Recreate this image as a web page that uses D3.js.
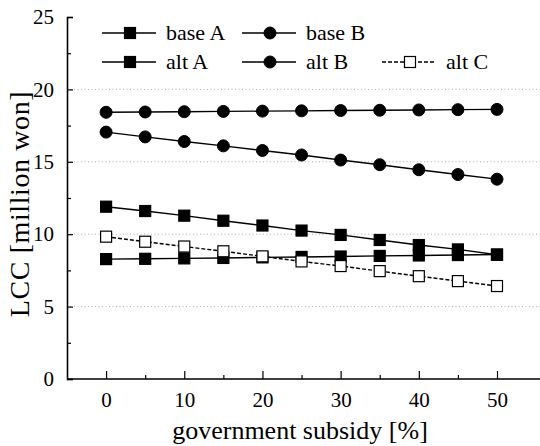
<!DOCTYPE html>
<html>
<head>
<meta charset="utf-8">
<script src="https://cdn.jsdelivr.net/npm/d3@7"></script>
<style>
  body { margin: 0; background: #fff; }
  svg { display: block; font-family: "Liberation Serif", "DejaVu Serif", serif; }
</style>
</head>
<body>
<div id="chart"></div>
<script>
// subsidy levels [%]
const subsidy = [0, 5, 10, 15, 20, 25, 30, 35, 40, 45, 50];

// LCC [million won]
const baseA = [8.28, 8.3, 8.33, 8.36, 8.4, 8.43, 8.46, 8.5, 8.53, 8.56, 8.6];
const baseB = [18.42, 18.44, 18.46, 18.48, 18.5, 18.52, 18.54, 18.56, 18.58, 18.6, 18.62];
const altA = [11.9, 11.6, 11.28, 10.93, 10.6, 10.25, 9.95, 9.6, 9.25, 8.95, 8.58];
const altB = [17.05, 16.72, 16.4, 16.1, 15.78, 15.47, 15.12, 14.8, 14.45, 14.12, 13.8];
const altC = [9.83, 9.48, 9.15, 8.82, 8.47, 8.12, 7.8, 7.45, 7.1, 6.76, 6.42];

const yTicks = [0, 5, 10, 15, 20, 25];
const xTicks = [0, 10, 20, 30, 40, 50];
const gridValues = [5, 10, 15, 20];

const width = 540, height = 446;
const mLeft = 67, mRight = 540, mTop = 17, mBottom = 379;
const serif = "Liberation Serif";

const svg = d3.select("#chart").append("svg")
    .attr("width", width)
    .attr("height", height);

const x = d3.scaleLinear().domain([-5, 55.5]).range([mLeft, mRight]);
const y = d3.scaleLinear().domain([0, 25]).range([mBottom, mTop]);

// dotted grid
svg.selectAll("line.grid")
    .data(gridValues)
    .join("line")
    .attr("class", "grid")
    .attr("x1", mLeft).attr("x2", mRight)
    .attr("y1", d => y(d)).attr("y2", d => y(d))
    .attr("stroke", "#999")
    .attr("stroke-width", 0.8)
    .attr("stroke-dasharray", "1,2.5");

// y axis (ticks inward)
const yAxis = d3.axisLeft(y)
    .tickValues(d3.range(0, 25.1, 2.5))
    .tickSize(-6)
    .tickPadding(13)
    .tickFormat(d => yTicks.includes(d) ? d : "");
const gy = svg.append("g").attr("transform", `translate(${mLeft},0)`).call(yAxis)
    .attr("font-family", serif);
gy.select(".domain").attr("stroke", "#000").attr("stroke-width", 1.6);
gy.selectAll(".tick line")
    .attr("stroke-width", 1.2)
    .attr("x2", d => yTicks.includes(d) ? 6 : 4);
gy.selectAll(".tick text")
    .attr("font-family", serif)
    .attr("font-size", 21)
    .attr("fill", "#000");

// x axis (ticks inward)
const xAxis = d3.axisBottom(x)
    .tickValues(d3.range(0, 51, 5))
    .tickSize(-8)
    .tickPadding(13)
    .tickFormat(d => xTicks.includes(d) ? d : "");
const gx = svg.append("g").attr("transform", `translate(0,${mBottom})`).call(xAxis)
    .attr("font-family", serif);
gx.select(".domain").attr("stroke", "#000").attr("stroke-width", 1.6)
    .attr("d", `M${mLeft},0H${mRight}`);
gx.selectAll(".tick line")
    .attr("stroke-width", 1.2)
    .attr("y2", d => xTicks.includes(d) ? -8 : -4);
gx.selectAll(".tick text")
    .attr("font-family", serif)
    .attr("font-size", 21)
    .attr("fill", "#000");

// axis titles
svg.append("text")
    .attr("x", 300).attr("y", 439)
    .attr("text-anchor", "middle")
    .attr("font-family", serif)
    .attr("font-size", 26)
    .text("government subsidy [%]");

svg.append("text")
    .attr("transform", "translate(29,204) rotate(-90)")
    .attr("text-anchor", "middle")
    .attr("font-family", serif)
    .attr("font-size", 28)
    .attr("letter-spacing", 0.6)
    .text("LCC [million won]");

const series = [
  { name: "base A", values: baseA, shape: "square", fill: "#000", dash: null },
  { name: "base B", values: baseB, shape: "circle", fill: "#000", dash: null },
  { name: "alt A", values: altA, shape: "square", fill: "#000", dash: null },
  { name: "alt B", values: altB, shape: "circle", fill: "#000", dash: null },
  { name: "alt C", values: altC, shape: "square", fill: "#fff", dash: "4,2" }
];

const line = d3.line()
    .x((d, i) => x(subsidy[i]))
    .y(d => y(d));

function drawMarker(g, shape, fill) {
    if (shape === "square") {
        g.append("rect")
            .attr("x", -5.5).attr("y", -5.5)
            .attr("width", 11).attr("height", 11)
            .attr("fill", fill)
            .attr("stroke", "#000")
            .attr("stroke-width", 1.2);
    } else {
        g.append("circle")
            .attr("r", 6)
            .attr("fill", fill)
            .attr("stroke", "#000")
            .attr("stroke-width", 1);
    }
}

series.forEach(s => {
    svg.append("path")
        .datum(s.values)
        .attr("d", line)
        .attr("fill", "none")
        .attr("stroke", "#000")
        .attr("stroke-width", 1.4)
        .attr("stroke-dasharray", s.dash);
    s.values.forEach((v, i) => {
        const g = svg.append("g").attr("transform", `translate(${x(subsidy[i])},${y(v)})`);
        drawMarker(g, s.shape, s.fill);
    });
});

// legend
const legendPos = [
  { x: 102, y: 33 },
  { x: 242, y: 33 },
  { x: 102, y: 62 },
  { x: 242, y: 62 },
  { x: 382, y: 62 }
];
series.forEach((s, i) => {
    const p = legendPos[i];
    const g = svg.append("g").attr("transform", `translate(${p.x},${p.y})`);
    g.append("line")
        .attr("x1", 0).attr("x2", 54)
        .attr("stroke", "#000")
        .attr("stroke-width", 1.4)
        .attr("stroke-dasharray", s.dash);
    drawMarker(g.append("g").attr("transform", "translate(28,0)"), s.shape, s.fill);
    g.append("text")
        .attr("x", 64).attr("y", 7)
        .attr("font-family", serif)
        .attr("font-size", 22)
        .text(s.name);
});
</script>
</body>
</html>
